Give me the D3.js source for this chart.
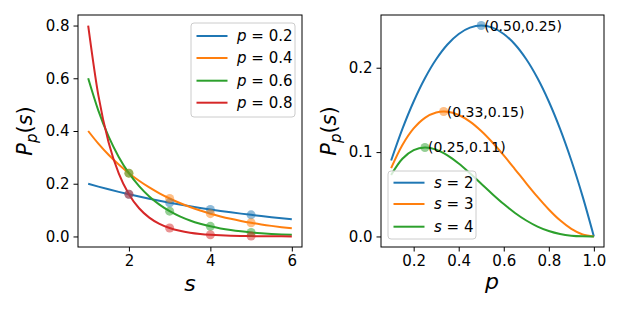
<!DOCTYPE html>
<html><head><meta charset="utf-8">
<script src="https://cdn.jsdelivr.net/npm/d3@7"></script>
<style>body{margin:0;background:#fff}svg{display:block}text{font-family:"DejaVu Sans",sans-serif}</style>
</head><body>
<script>
// Left panel: P_p(s) vs s
const sGrid = [1,1.25,1.5,1.75,2,2.25,2.5,2.75,3,3.25,3.5,3.75,4,4.25,4.5,4.75,5,5.25,5.5,5.75,6];
const pLabels = ["0.2","0.4","0.6","0.8"];
const curveP02 = [0.2,0.18915,0.17889,0.16918,0.16,0.15132,0.14311,0.13535,0.128,0.12106,0.11449,0.10828,0.1024,0.09684,0.09159,0.08662,0.08192,0.07748,0.07327,0.0693,0.06554];
const curveP04 = [0.4,0.35204,0.30984,0.27269,0.24,0.21123,0.1859,0.16362,0.144,0.12674,0.11154,0.09817,0.0864,0.07604,0.06693,0.0589,0.05184,0.04562,0.04016,0.03534,0.0311];
const curveP06 = [0.6,0.47716,0.37947,0.30178,0.24,0.19086,0.15179,0.12071,0.096,0.07635,0.06072,0.04829,0.0384,0.03054,0.02429,0.01931,0.01536,0.01222,0.00971,0.00773,0.00614];
const curveP08 = [0.8,0.53499,0.35777,0.23926,0.16,0.107,0.07155,0.04785,0.032,0.0214,0.01431,0.00957,0.0064,0.00428,0.00286,0.00191,0.00128,0.00086,0.00057,0.00038,0.00026];
const sPoints = [2,3,4,5];
const ptsP02 = [0.16,0.128,0.1024,0.08192];
const ptsP04 = [0.24,0.144,0.0864,0.05184];
const ptsP06 = [0.24,0.096,0.0384,0.01536];
const ptsP08 = [0.16,0.032,0.0064,0.00128];
const leftXTicks = [2,4,6];
const leftYTicks = [0,0.2,0.4,0.6,0.8];

// Right panel: P_p(s) vs p
const pGrid = [0.1,0.15,0.2,0.25,0.3,0.35,0.4,0.45,0.5,0.55,0.6,0.65,0.7,0.75,0.8,0.85,0.9,0.95,1.0];
const sLabels = ["2","3","4"];
const curveS2 = [0.09,0.1275,0.16,0.1875,0.21,0.2275,0.24,0.2475,0.25,0.2475,0.24,0.2275,0.21,0.1875,0.16,0.1275,0.09,0.0475,0];
const curveS3 = [0.081,0.108375,0.128,0.140625,0.147,0.147875,0.144,0.136125,0.125,0.111375,0.096,0.079625,0.063,0.046875,0.032,0.019125,0.009,0.002375,0];
const curveS4 = [0.0729,0.092119,0.1024,0.105469,0.1029,0.096119,0.0864,0.074869,0.0625,0.050119,0.0384,0.027869,0.0189,0.011719,0.0064,0.002869,0.0009,0.000119,0];
const peakP = [0.5,0.3333,0.25];
const peakV = [0.25,0.1481,0.1055];
const peakText = ["(0.50,0.25)","(0.33,0.15)","(0.25,0.11)"];
const rightXTicks = [0.2,0.4,0.6,0.8,1.0];
const rightYTicks = [0,0.1,0.2];

const colors = ["#1f77b4","#ff7f0e","#2ca02c","#d62728"];

const W=623,H=312;
const svg = d3.select("body").append("svg").attr("width",W).attr("height",H);

function panel(x0,x1,y0,y1,xdom,ydom,xt,yt,xfmt,yfmt){
  const x = d3.scaleLinear().domain(xdom).range([x0,x1]);
  const y = d3.scaleLinear().domain(ydom).range([y1,y0]);
  const g = svg.append("g");
  const gx = g.append("g").attr("transform",`translate(0,${y1})`)
    .call(d3.axisBottom(x).tickValues(xt).tickFormat(xfmt).tickSize(4.5).tickPadding(4));
  const gy = g.append("g").attr("transform",`translate(${x0},0)`)
    .call(d3.axisLeft(y).tickValues(yt).tickFormat(yfmt).tickSize(4.5).tickPadding(4));
  [gx,gy].forEach(a=>{a.select(".domain").remove();a.selectAll("text").attr("font-size",15).attr("fill","#000").attr("font-family","DejaVu Sans");a.selectAll("line").attr("stroke","#000").attr("stroke-width",1);});
  return {x,y,g,x0,x1,y0,y1};
}
function frame(P){
  P.g.append("rect").attr("x",P.x0).attr("y",P.y0).attr("width",P.x1-P.x0).attr("height",P.y1-P.y0)
    .attr("fill","none").attr("stroke","#000").attr("stroke-width",1);
}

// Left
const L = panel(78,302,15,247,[0.75,6.25],[-0.04,0.84],leftXTicks,leftYTicks,d3.format("d"),d3.format(".1f"));
const leftCurves=[curveP02,curveP04,curveP06,curveP08];
const leftPts=[ptsP02,ptsP04,ptsP06,ptsP08];
const lineL = d3.line().x(d=>L.x(d[0])).y(d=>L.y(d[1])).curve(d3.curveMonotoneX);
leftCurves.forEach((c,i)=>{
  L.g.append("path").attr("d",lineL(sGrid.map((s,j)=>[s,c[j]]))).attr("fill","none").attr("stroke",colors[i]).attr("stroke-width",2);
});
leftPts.forEach((c,i)=>{
  L.g.selectAll(null).data(sPoints.map((s,j)=>[s,c[j]])).enter().append("circle")
    .attr("cx",d=>L.x(d[0])).attr("cy",d=>L.y(d[1])).attr("r",4.5).attr("fill",colors[i]).attr("fill-opacity",0.5);
});
frame(L);

// Right
const R = panel(381,604,15,247,[0.055,1.045],[-0.0125,0.2625],rightXTicks,rightYTicks,d3.format(".1f"),d3.format(".1f"));
const rightCurves=[curveS2,curveS3,curveS4];
const lineR = d3.line().x(d=>R.x(d[0])).y(d=>R.y(d[1])).curve(d3.curveCatmullRom.alpha(0.5));
rightCurves.forEach((c,i)=>{
  R.g.append("path").attr("d",lineR(pGrid.map((p,j)=>[p,c[j]]))).attr("fill","none").attr("stroke",colors[i]).attr("stroke-width",2);
});
peakP.forEach((p,i)=>{
  R.g.append("circle").attr("cx",R.x(p)).attr("cy",R.y(peakV[i])).attr("r",4.5).attr("fill",colors[i]).attr("fill-opacity",0.5);
  R.g.append("text").attr("x",R.x(p)+3).attr("y",R.y(peakV[i])+5).attr("font-size",14).text(peakText[i]);
});
frame(R);

// Legends
function legend(x,y,w,h,rows,sym,labels,fs){
  const g = svg.append("g");
  g.append("rect").attr("x",x).attr("y",y).attr("width",w).attr("height",h).attr("rx",3)
    .attr("fill","#fff").attr("fill-opacity",0.8).attr("stroke","#ccc").attr("stroke-width",1);
  labels.forEach((lab,i)=>{
    const yy=rows[i];
    g.append("line").attr("x1",x+5.5).attr("x2",x+36.5).attr("y1",yy).attr("y2",yy).attr("stroke",colors[i]).attr("stroke-width",2);
    const t=g.append("text").attr("x",x+46).attr("y",yy+5).attr("font-size",fs);
    t.append("tspan").attr("font-style","italic").text(sym);
    t.append("tspan").text(" = "+lab);
  });
}
legend(191,23,104,94,[36,58,80.7,102.7],"p",pLabels,15);
legend(388,171,88,68,[182.7,204,226.7],"s",sLabels,15);

// Axis labels
function ylab(cx,cy){
  const t=svg.append("text").attr("transform",`translate(${cx},${cy}) rotate(-90)`).attr("text-anchor","middle").attr("font-size",21);
  t.append("tspan").attr("font-style","italic").text("P");
  t.append("tspan").attr("font-style","italic").attr("font-size",15).attr("dy",5).text("p");
  t.append("tspan").attr("dy",-5).text("(");
  t.append("tspan").attr("font-style","italic").text("s");
  t.append("tspan").text(")");
}
ylab(32,131);
ylab(336,131);
svg.append("text").attr("x",190).attr("y",291).attr("text-anchor","middle").attr("font-size",22).attr("font-style","italic").text("s");
svg.append("text").attr("x",492).attr("y",289).attr("text-anchor","middle").attr("font-size",22).attr("font-style","italic").text("p");
</script>
</body></html>
